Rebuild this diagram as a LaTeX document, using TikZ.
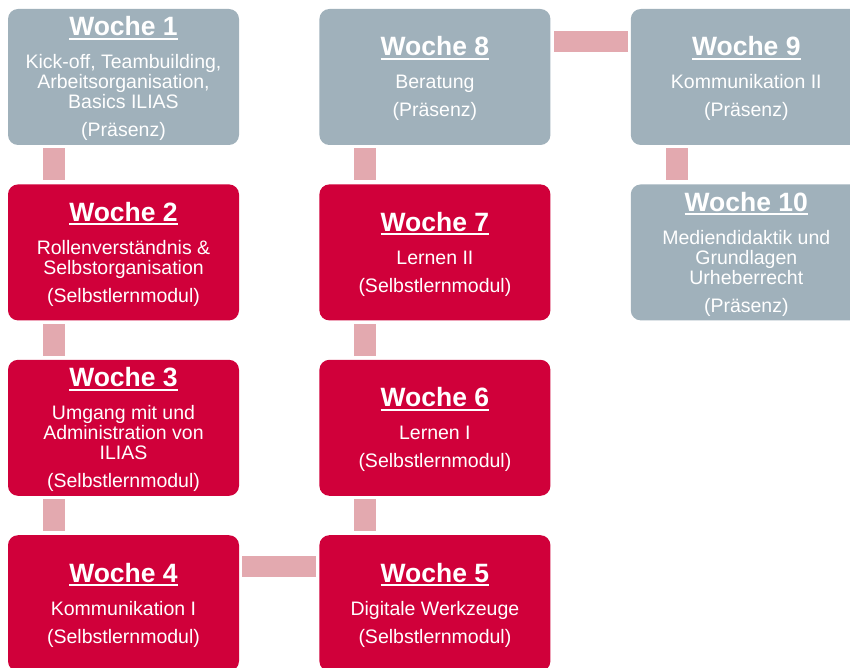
\documentclass[tikz,border=0pt]{standalone}
\usepackage{fontspec}
\setmainfont{Liberation Sans}
\usetikzlibrary{positioning}
\definecolor{praesenzgrey}{HTML}{A0B1BB}
\definecolor{selbstred}{HTML}{D0003A}
\definecolor{linkpink}{HTML}{E3A9AF}
\newcommand{\woche}[1]{{\fontsize{26.5}{28}\selectfont\bfseries\rule{0pt}{23pt}\setbox0\hbox{Woche #1}\copy0\llap{\rule[-4pt]{\wd0}{2pt}}}\\[13pt]}

\begin{document}
\begin{tikzpicture}[x=1pt,y=1pt,
  week/.style={rounded corners=10pt, minimum width=231pt, minimum height=136pt, inner sep=0pt,
    text=white, align=center, font=\fontsize{19.5}{20}\selectfont},
  praesenz/.style={week, fill=praesenzgrey},
  selbst/.style={week, fill=selbstred},
  link/.style={fill=linkpink},
  node distance=39pt and 80pt]
  \clip (0,0) rectangle (850,-668);
  \node[praesenz] (w1) at (123.5,-77) {\woche{1}Kick-off, Teambuilding,\\Arbeitsorganisation,\\Basics ILIAS\\[8pt](Präsenz)};
  \node[selbst, below=of w1] (w2) {\woche{2}Rollenverständnis \&\\Selbstorganisation\\[8pt](Selbstlernmodul)};
  \node[selbst, below=of w2] (w3) {\woche{3}Umgang mit und\\Administration von\\ILIAS\\[8pt](Selbstlernmodul)};
  \node[selbst, below=of w3] (w4) {\woche{4}Kommunikation I\\[8pt](Selbstlernmodul)};
  \node[selbst, right=of w4] (w5) {\woche{5}Digitale Werkzeuge\\[8pt](Selbstlernmodul)};
  \node[selbst, above=of w5] (w6) {\woche{6}Lernen I\\[8pt](Selbstlernmodul)};
  \node[selbst, above=of w6] (w7) {\woche{7}Lernen II\\[8pt](Selbstlernmodul)};
  \node[praesenz, above=of w7] (w8) {\woche{8}Beratung\\[8pt](Präsenz)};
  \node[praesenz, right=of w8] (w9) {\woche{9}Kommunikation II\\[8pt](Präsenz)};
  \node[praesenz, below=of w9] (w10) {\woche{10}Mediendidaktik und\\Grundlagen\\Urheberrecht\\[8pt](Präsenz)};
  % verbindungen
  \foreach \a/\b in {w1/w2,w2/w3,w3/w4,w7/w6,w6/w5,w8/w7,w9/w10}
    \fill[link] ([xshift=35pt,yshift=-3pt]\a.south west) rectangle ([xshift=57pt,yshift=4pt]\b.north west);
  \fill[link] ([xshift=3pt,yshift=-21pt]w4.north east) rectangle ([xshift=-3pt,yshift=-42pt]w5.north west);
  \fill[link] ([xshift=3pt,yshift=-22pt]w8.north east) rectangle ([xshift=-3pt,yshift=-43pt]w9.north west);
\end{tikzpicture}
\end{document}
